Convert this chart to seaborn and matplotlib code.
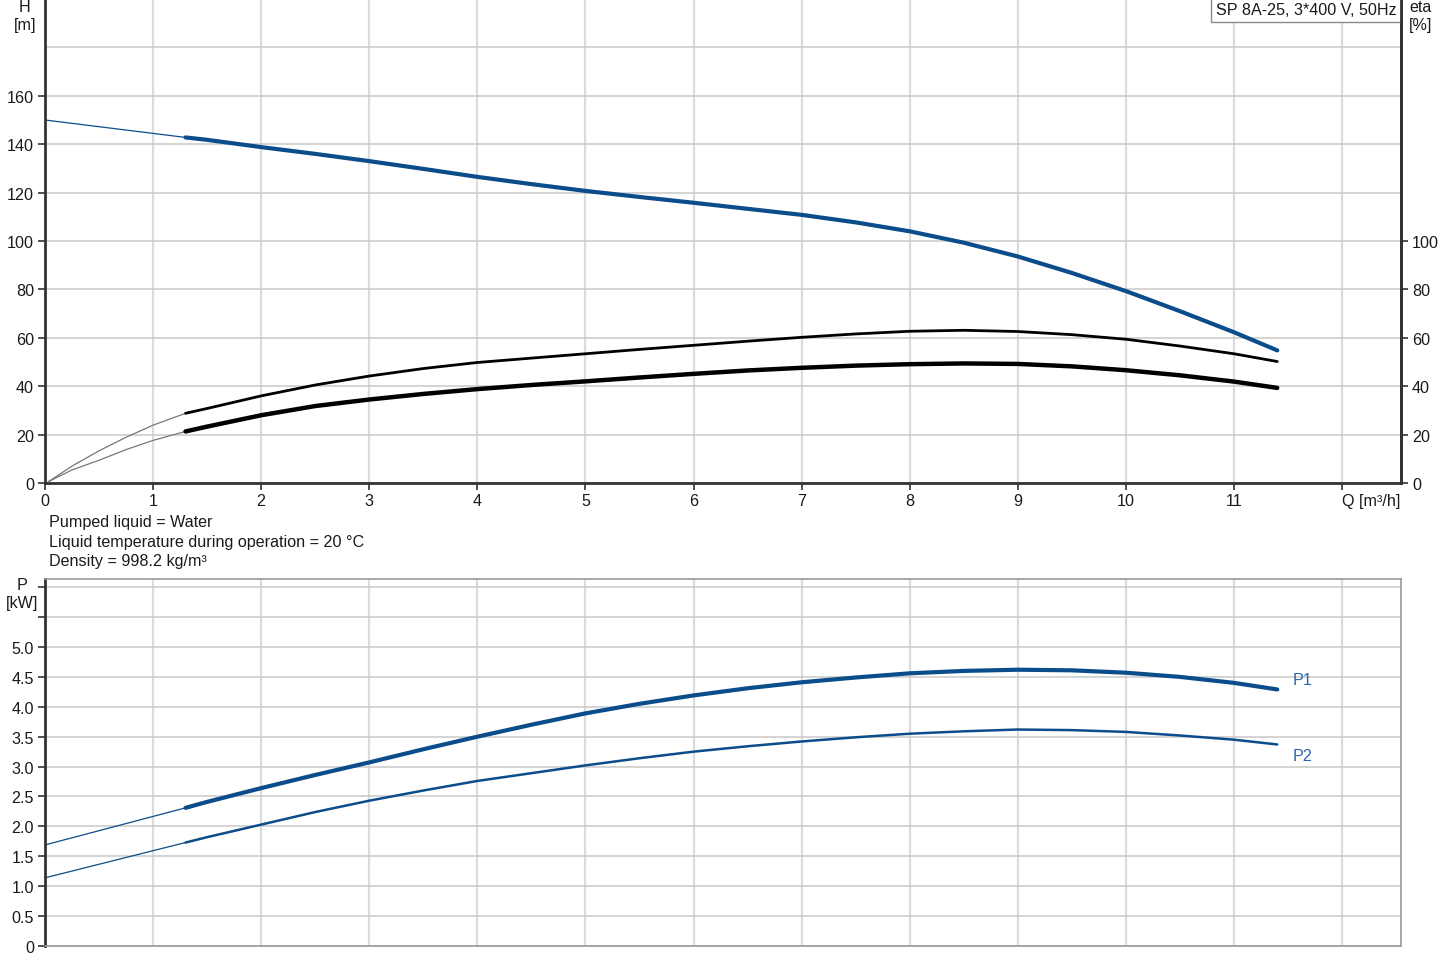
import numpy as np
import pandas as pd
import matplotlib
matplotlib.use("Agg")
import matplotlib.pyplot as plt
import seaborn as sns

# flow Q [m3/h]; first segment (0 .. 1.3) is drawn thin, rest thick
q_start = [0.0, 1.3]
q_curve = [1.3, 1.5, 2.0, 2.5, 3.0, 3.5, 4.0, 4.5, 5.0, 5.5, 6.0, 6.5, 7.0,
           7.5, 8.0, 8.5, 9.0, 9.5, 10.0, 10.5, 11.0, 11.4]

# head H [m]
h_start = [150.0, 142.8]
h_curve = [142.8, 141.8, 138.8, 136.0, 133.0, 129.8, 126.5, 123.5, 120.7, 118.2,
           115.8, 113.3, 110.8, 107.7, 104.0, 99.3, 93.6, 86.8, 79.3, 71.0, 62.3, 54.8]

# efficiency eta [%]
q_eta_start = [0.03, 0.25, 0.5, 0.75, 1.0, 1.3]
eta1_start = [0.5, 7.0, 13.3, 18.9, 23.9, 28.8]
eta1_curve = [28.8, 30.8, 36.0, 40.5, 44.2, 47.3, 49.8, 51.6, 53.4, 55.2, 56.9,
              58.6, 60.2, 61.6, 62.7, 63.1, 62.6, 61.3, 59.4, 56.6, 53.4, 50.2]
eta2_start = [0.5, 5.4, 9.4, 13.8, 17.6, 21.3]
eta2_curve = [21.3, 23.3, 28.0, 31.8, 34.5, 36.8, 38.8, 40.5, 42.0, 43.6, 45.1,
              46.5, 47.6, 48.5, 49.1, 49.4, 49.2, 48.2, 46.6, 44.5, 41.9, 39.3]

# power P [kW]
p1_start = [1.69, 2.31]
p1_curve = [2.31, 2.41, 2.64, 2.86, 3.07, 3.29, 3.50, 3.70, 3.89, 4.05, 4.19,
            4.31, 4.41, 4.49, 4.56, 4.60, 4.62, 4.61, 4.57, 4.50, 4.40, 4.29]
p2_start = [1.14, 1.73]
p2_curve = [1.73, 1.82, 2.03, 2.24, 2.43, 2.60, 2.76, 2.89, 3.02, 3.14, 3.25,
            3.34, 3.42, 3.49, 3.55, 3.59, 3.62, 3.61, 3.58, 3.52, 3.45, 3.37]

x_ticks = list(range(0, 13))
x_labels = [str(t) for t in range(0, 12)] + ["Q [m³/h]"]
h_ticks = list(range(0, 161, 20))
h_extra = [180, 200]
eta_ticks = list(range(0, 101, 20))
p_ticks = [i * 0.5 for i in range(13)]
p_labels = ["0"] + [f"{t:.1f}" if t <= 5.0 else "" for t in p_ticks[1:]]

title = "SP 8A-25, 3*400 V, 50Hz"
info = "Pumped liquid = Water\nLiquid temperature during operation = 20 °C\nDensity = 998.2 kg/m³"

sns.set_style("white")
plt.rcParams['font.family'] = ['Liberation Sans', 'DejaVu Sans']
fs = 11.6
plt.rcParams['font.size'] = fs

blue = '#0b4c8a'
lblue = '#2c66ad'
txt = '#1a1a1a'
vgrid = '#dcdcdc'
hgrid = '#c9c9c9'

fig = plt.figure(figsize=(14.42, 9.70), dpi=100)
W, H = 1442, 970
ax = fig.add_axes([45 / W, 1 - 484 / H, 1356 / W, 484 / H])
axp = fig.add_axes([45 / W, 1 - 947 / H, 1356 / W, 367 / H])
ax_eta = ax.twinx()

xmax = 12.545

def line(a, x, y, color, lw):
    sns.lineplot(x=x, y=y, ax=a, color=color, linewidth=lw, sort=False,
                 estimator=None, legend=False)

# ---- top panel: H and eta
line(ax, q_start, h_start, blue, 0.9)
line(ax, q_curve, h_curve, blue, 3.0)
line(ax_eta, q_eta_start, eta1_start, '#777777', 0.9)
line(ax_eta, q_eta_start, eta2_start, '#777777', 0.9)
line(ax_eta, q_curve, eta1_curve, 'black', 2.0)
line(ax_eta, q_curve, eta2_curve, 'black', 3.2)

ax.set_xlim(0, xmax)
ax.set_ylim(0, 200)
ax_eta.set_ylim(0, 200)
ax.set_xticks(x_ticks)
ax.set_xticklabels(x_labels)
ax.get_xticklabels()[-1].set_horizontalalignment('left')
ax.set_yticks(h_ticks)
ax.set_yticks(h_extra, minor=True)
ax_eta.set_yticks(eta_ticks)
ax.set_xlabel('')
ax.set_ylabel('')
ax_eta.set_ylabel('')
for a in (ax, axp):
    a.set_axisbelow(True)
    a.xaxis.grid(True, color=vgrid, linewidth=1.6)
    a.yaxis.grid(True, which='both', color=hgrid, linewidth=1.1)
ax.tick_params(axis='y', which='minor', length=0)

ax.tick_params(axis='both', direction='out', length=5, width=1.2, color='#333333',
               labelcolor=txt, labelsize=fs, pad=2)
ax.tick_params(axis='y', left=True, pad=3)
ax.tick_params(axis='x', bottom=True)
ax_eta.tick_params(axis='y', right=True, direction='out', length=5, width=1.2,
                   color='#333333', labelcolor=txt, labelsize=fs, pad=3)
for side in ('left', 'bottom', 'right'):
    ax.spines[side].set_color('#333333')
    ax.spines[side].set_linewidth(2)
    ax_eta.spines[side].set_visible(False)
ax_eta.spines['right'].set_visible(True)
ax_eta.spines['right'].set_color('#333333')
ax_eta.spines['right'].set_linewidth(2)
ax_eta.spines['top'].set_visible(False)
ax.spines['top'].set_color('#999999')
ax.spines['top'].set_linewidth(1.2)

ax.text(0.9965, 0.993, title, transform=ax.transAxes, ha='right', va='top',
        fontsize=fs, color=txt, zorder=10,
        bbox=dict(boxstyle='square,pad=0.3', fc='white', ec='#8a8a8a', lw=1))

fig.text(25 / W, 1 - 0 / H, 'H\n[m]', ha='center', va='top', fontsize=fs,
         color=txt, linespacing=1.25)
fig.text(1421 / W, 1 - 0 / H, 'eta\n[%]', ha='center', va='top', fontsize=fs,
         color=txt, linespacing=1.25)
fig.text(49 / W, 1 - 515 / H, info, ha='left', va='top', fontsize=fs,
         color=txt, linespacing=1.38)

# ---- bottom panel: P1 and P2
line(axp, q_start, p1_start, blue, 0.9)
line(axp, q_start, p2_start, blue, 0.9)
line(axp, q_curve, p1_curve, blue, 3.0)
line(axp, q_curve, p2_curve, blue, 1.8)

axp.set_xlim(0, xmax)
axp.set_ylim(0, 6.137)
axp.set_xticks(x_ticks)
axp.set_xticklabels([])
axp.set_yticks(p_ticks)
axp.set_yticklabels(p_labels)
axp.set_xlabel('')
axp.set_ylabel('')
axp.tick_params(axis='x', bottom=False, length=0)
axp.tick_params(axis='y', left=True, direction='out', length=5, width=1.2,
                color='#333333', labelcolor=txt, labelsize=fs, pad=3)
axp.spines['left'].set_color('#333333')
axp.spines['left'].set_linewidth(2)
for side in ('top', 'right', 'bottom'):
    axp.spines[side].set_color('#999999')
    axp.spines[side].set_linewidth(1.2)

axp.annotate('P1', xy=(q_curve[-1], p1_curve[-1]), xytext=(11, 7),
             textcoords='offset points', ha='left', va='center', fontsize=fs,
             color=lblue)
axp.annotate('P2', xy=(q_curve[-1], p2_curve[-1]), xytext=(11, -8),
             textcoords='offset points', ha='left', va='center', fontsize=fs,
             color=lblue)

fig.text(22 / W, 1 - 578 / H, 'P\n[kW]', ha='center', va='top', fontsize=fs,
         color=txt, linespacing=1.25)

fig.savefig('out.png', dpi=100)
